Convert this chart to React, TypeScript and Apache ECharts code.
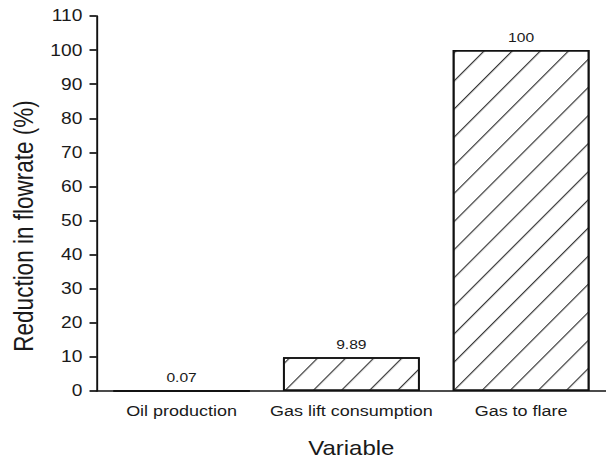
import React, { useEffect, useRef } from "react";
import * as echarts from "echarts";

const categories = ["Oil production", "Gas lift consumption", "Gas to flare"];
const values = [0.07, 9.89, 100];
const valueLabels = ["0.07", "9.89", "100"];
const yTicks = [0, 10, 20, 30, 40, 50, 60, 70, 80, 90, 100, 110];

// The reference figure is stretched horizontally by ~1.2; we draw at 505px wide and scale X.
const STRETCH = 1.2;
const OUT_W = 606;
const OUT_H = 464;

export default function App() {
  const ref = useRef<HTMLDivElement>(null);
  useEffect(() => {
    if (!ref.current) return;
    const chart = echarts.init(ref.current, undefined, { renderer: "svg" });
    const font = "'Liberation Sans', Arial, sans-serif";
    const ink = "#1a1a1a";
    chart.setOption({
      animation: false,
      backgroundColor: "#fff",
      textStyle: { fontFamily: font },
      grid: { left: 78, right: 0, top: 16, bottom: 73, containLabel: false },
      xAxis: {
        type: "category",
        data: categories,
        name: "Variable",
        nameLocation: "middle",
        nameGap: 47,
        nameTextStyle: { fontSize: 20, color: ink, fontFamily: font },
        axisLine: { lineStyle: { color: "#111", width: 1.7 } },
        axisTick: { alignWithLabel: true, length: 8, lineStyle: { color: "#111", width: 1.6 } },
        axisLabel: { interval: 0, fontSize: 15, color: ink, margin: 13, fontFamily: font, hideOverlap: false },
      },
      yAxis: {
        type: "value",
        min: 0,
        max: 110,
        interval: 10,
        name: "Reduction in flowrate (%)",
        nameLocation: "middle",
        nameGap: 48,
        nameTextStyle: { fontSize: 22.5, color: ink, fontFamily: font, padding: [0, 45, 0, 0] },
        axisLine: { show: true, lineStyle: { color: "#111", width: 1.6 } },
        axisTick: { show: true, length: 6, lineStyle: { color: "#111", width: 1.7 } },
        axisLabel: {
          fontSize: 16,
          color: ink,
          margin: 12,
          fontFamily: font,
          formatter: (v: number) => (yTicks.includes(v) ? String(v) : ""),
        },
        splitLine: { show: false },
      },
      series: [
        {
          type: "bar",
          data: values,
          barWidth: 114,
          itemStyle: {
            color: "#fff",
            borderColor: "#111",
            borderWidth: 1.5,
            decal: {
              symbol: "rect",
              symbolSize: 1,
              color: "#333",
              backgroundColor: "#fff",
              dashArrayX: [[1, 0]],
              dashArrayY: [1, 16.3],
              rotation: -0.876,
            },
          },
          label: {
            show: true,
            position: "top",
            distance: 6,
            fontSize: 13,
            color: ink,
            fontFamily: font,
            formatter: (p: any) => valueLabels[p.dataIndex],
          },
        },
      ],
    });
    return () => chart.dispose();
  }, []);
  return (
    <div style={{ position: "absolute", left: 0, top: 0, width: OUT_W, height: OUT_H, overflow: "hidden", background: "#fff" }}>
      <div
        ref={ref}
        style={{
          width: OUT_W / STRETCH,
          height: OUT_H,
          transform: `scaleX(${STRETCH})`,
          transformOrigin: "0 0",
        }}
      />
    </div>
  );
}
